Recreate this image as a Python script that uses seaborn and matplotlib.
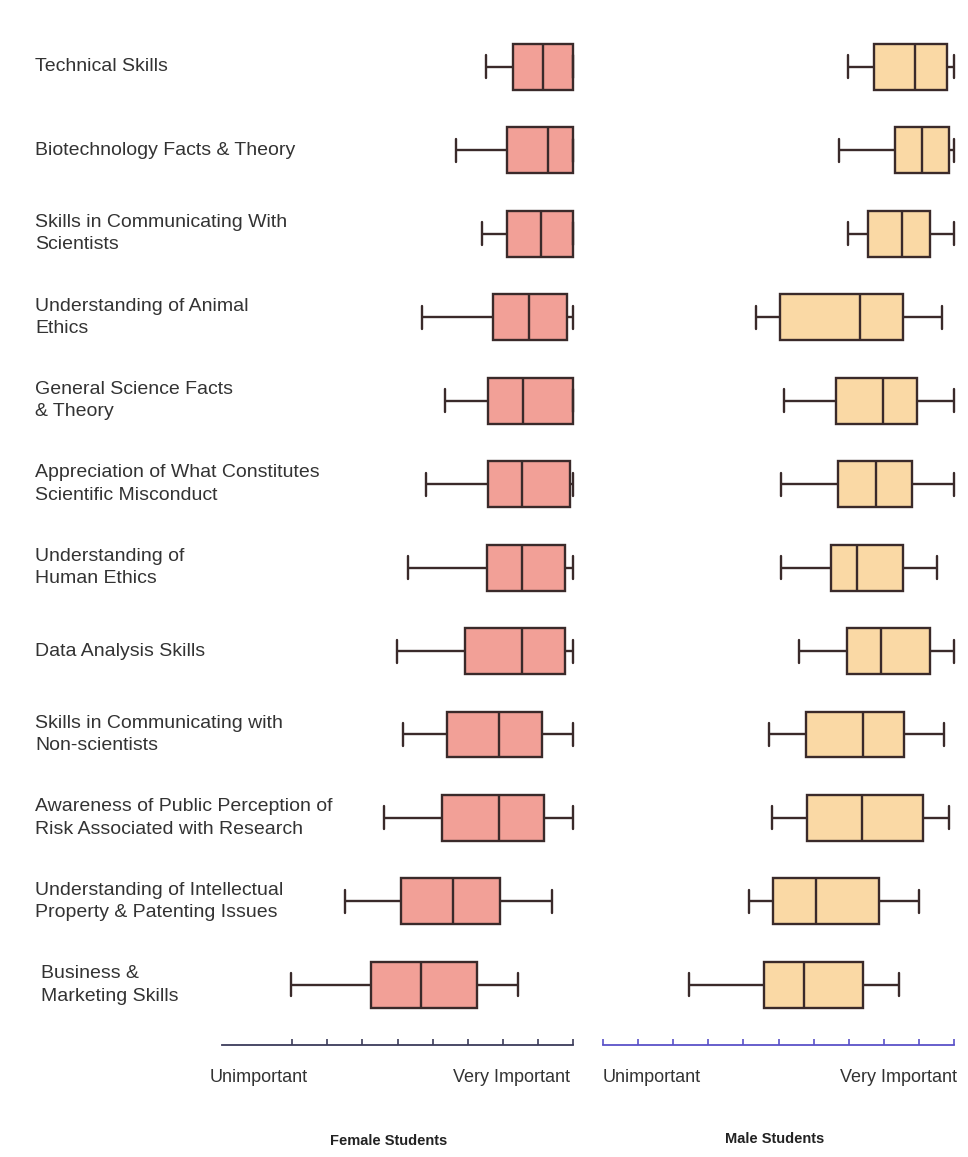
import numpy as np
import pandas as pd
import matplotlib
matplotlib.use("Agg")
import matplotlib.pyplot as plt
import matplotlib.transforms as mtransforms
from matplotlib import font_manager as fm
import seaborn as sns

# ---------------- data ----------------
skills = [
    "Technical Skills",
    "Biotechnology Facts & Theory",
    "Skills in Communicating With\nScientists",
    "Understanding of Animal\nEthics",
    "General Science Facts\n& Theory",
    "Appreciation of What Constitutes\nScientific Misconduct",
    "Understanding of\nHuman Ethics",
    "Data Analysis Skills",
    "Skills in Communicating with\nNon-scientists",
    "Awareness of Public Perception of\nRisk Associated with Research",
    "Understanding of Intellectual\nProperty & Patenting Issues",
    "Business &\nMarketing Skills",
]

female_min = [7.52, 6.67, 7.40, 5.69, 6.35, 5.80, 5.29, 4.99, 5.15, 4.62, 3.50, 1.98]
female_q1  = [8.30, 8.11, 8.11, 7.73, 7.59, 7.59, 7.54, 6.93, 6.40, 6.28, 5.09, 4.24]
female_med = [9.14, 9.28, 9.09, 8.76, 8.57, 8.56, 8.56, 8.54, 7.90, 7.89, 6.57, 5.67]
female_q3  = [10.0, 10.0, 10.0, 9.84, 10.0, 9.92, 9.77, 9.77, 9.11, 9.18, 7.92, 7.27]
female_max = [10.0, 10.0, 10.0, 10.0, 10.0, 10.0, 10.0, 10.0, 10.0, 10.0, 9.39, 8.44]

male_min = [6.99, 6.73, 6.99, 4.36, 5.17, 5.07, 5.07, 5.59, 4.74, 4.81, 4.16, 2.46]
male_q1  = [7.73, 8.32, 7.54, 5.04, 6.63, 6.69, 6.49, 6.94, 5.77, 5.82, 4.85, 4.60]
male_med = [8.89, 9.10, 8.51, 7.32, 7.97, 7.78, 7.25, 7.91, 7.40, 7.39, 6.07, 5.74]
male_q3  = [9.79, 9.86, 9.32, 8.54, 8.94, 8.79, 8.54, 9.32, 8.58, 9.13, 7.87, 7.42]
male_max = [10.0, 10.0, 10.0, 9.67, 10.0, 10.0, 9.52, 10.0, 9.72, 9.86, 9.00, 8.43]

scale_labels = ["Unimportant", "Very Important"]
panel_titles = ["Female Students", "Male Students"]


def long_frame(mins, q1s, meds, q3s, maxs):
    rows = []
    for i, s in enumerate(skills):
        for v in (mins[i], q1s[i], meds[i], q3s[i], maxs[i]):
            rows.append({"skill": s, "value": v})
    return pd.DataFrame(rows)


df_f = long_frame(female_min, female_q1, female_med, female_q3, female_max)
df_m = long_frame(male_min, male_q1, male_med, male_q3, male_max)

# ---------------- fonts ----------------
def has_font(name):
    try:
        fm.findfont(fm.FontProperties(family=name), fallback_to_default=False)
        return True
    except Exception:
        return False

sns.set_style("white")
if has_font("Liberation Sans Narrow"):
    FAM = ["Liberation Sans Narrow", "DejaVu Sans"]
    LBL, SCL, TTL, LSP = 17, 15.5, 12, 1.1
else:
    FAM = ["Liberation Sans", "DejaVu Sans"]
    LBL, SCL, TTL, LSP = 14, 13, 10.5, 1.4
plt.rcParams["font.family"] = FAM

# ---------------- figure ----------------
W, H = 968, 1157
fig = plt.figure(figsize=(W / 100, H / 100), dpi=100)
fig.patch.set_facecolor("white")

ax_bottom = 1 - 1045 / H
ax_height = (1045 - 20) / H
axL = fig.add_axes([222 / W, ax_bottom, 351 / W, ax_height])
axR = fig.add_axes([603 / W, ax_bottom, 351 / W, ax_height])

edge = "#3a2a2a"
f_fill = "#f2a097"
m_fill = "#fad9a5"

for ax, df, fill in ((axL, df_f, f_fill), (axR, df_m, m_fill)):
    sns.boxplot(data=df, x="value", y="skill", order=skills, ax=ax,
                whis=(0, 100), width=0.55, color=fill, saturation=1,
                linecolor=edge, linewidth=1.7, showfliers=False)
    ax.set_xlim(0, 10)
    ax.set_ylim(11.72, -0.56)
    for art in list(ax.patches) + list(ax.lines):
        art.set_clip_on(False)
    ax.set_xlabel("")
    ax.set_ylabel("")
    ax.set_yticks([])
    ax.set_facecolor("none")
    for sp in ("top", "left", "right"):
        ax.spines[sp].set_visible(False)

for ax, ticks, col in ((axL, range(2, 11), "#3c3c5a"), (axR, range(0, 11), "#5a52c8")):
    ax.spines["bottom"].set_color(col)
    ax.spines["bottom"].set_linewidth(1.3)
    ax.set_xticks(list(ticks))
    ax.set_xticklabels([])
    ax.tick_params(axis="x", bottom=True, direction="in", length=4,
                   width=1.2, color=col)

# category labels
trans = mtransforms.blended_transform_factory(fig.transFigure, axL.transData)
for i, s in enumerate(skills):
    x = 41 / W if s.startswith("Business") else 35 / W
    axL.text(x, i, s, transform=trans, ha="left", va="center",
             fontsize=LBL, color="#333333", linespacing=LSP)

# scale labels
ys = 1 - 1078 / H
fig.text(210 / W, ys, scale_labels[0], ha="left", va="center", fontsize=SCL, color="#333333")
fig.text(570 / W, ys, scale_labels[1], ha="right", va="center", fontsize=SCL, color="#333333")
fig.text(603 / W, ys, scale_labels[0], ha="left", va="center", fontsize=SCL, color="#333333")
fig.text(957 / W, ys, scale_labels[1], ha="right", va="center", fontsize=SCL, color="#333333")

# panel titles
fig.text(389 / W, 1 - 1141 / H, panel_titles[0], ha="center", va="center",
         fontsize=TTL, fontweight="bold", color="#222222")
fig.text(775 / W, 1 - 1139 / H, panel_titles[1], ha="center", va="center",
         fontsize=TTL, fontweight="bold", color="#222222")

fig.savefig("out.png", dpi=100, facecolor="white")
